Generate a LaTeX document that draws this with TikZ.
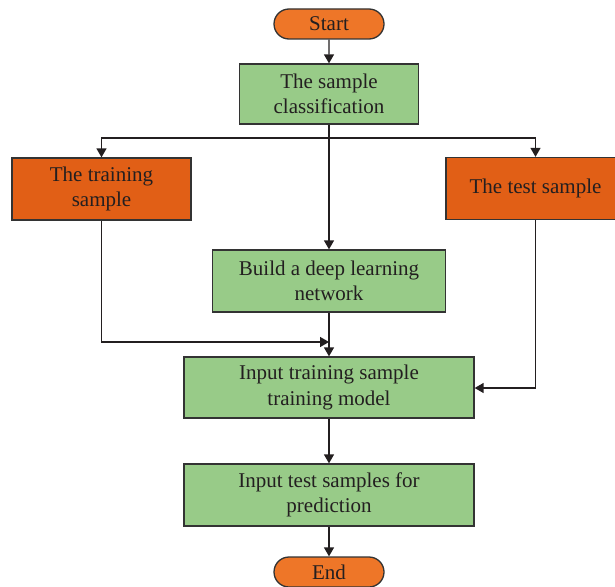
\documentclass[tikz,border=0pt]{standalone}
\usepackage{fontspec}
\setmainfont{Liberation Serif}
\usetikzlibrary{arrows.meta,shapes.misc}
\definecolor{boxgreen}{HTML}{98CB88}
\definecolor{boxorange}{HTML}{E15F16}
\definecolor{termorange}{HTML}{EE7628}
\definecolor{txt}{HTML}{231F20}
\definecolor{edge}{HTML}{333333}
\begin{document}
\begin{tikzpicture}[x=1pt,y=-1pt,
  base/.style={draw=edge,line width=1.3pt,text=txt,align=center,font=\fontsize{21}{25.5}\selectfont,inner sep=0pt},
  greenbox/.style={base,fill=boxgreen,minimum height=61pt},
  orangebox/.style={base,fill=boxorange,minimum height=62pt,minimum width=179pt},
  term/.style={base,fill=termorange,rounded rectangle,minimum width=110pt,minimum height=30pt},
  arr/.style={draw=txt,line width=1.4pt,-{Triangle[width=10pt,length=9pt]}},
  ln/.style={draw=txt,line width=1.4pt}]
\useasboundingbox (0,0) rectangle (615,586);
\node[term] (start) at (329,24) {Start};
\node[greenbox,minimum width=179pt,minimum height=60pt] (class) at (329,94) {The sample\\classification};
\node[orangebox] (train) at (101.5,189) {The training\\sample};
\node[orangebox] (test) at (535.5,188.5) {The test sample};
\node[greenbox,minimum width=233pt,minimum height=62pt] (build) at (329,281) {Build a deep learning\\network};
\node[greenbox,minimum width=290pt] (inptrain) at (329,387.5) {Input training sample\\training model};
\node[greenbox,minimum width=290pt,minimum height=62pt] (inptest) at (329,495) {Input test samples for\\prediction};
\node[term] (end) at (329,572) {End};

\coordinate (split) at (329,138);
\coordinate (join) at (329,342);
\coordinate (tjoin) at (535.5,388);

\draw[arr] (start) -- (class);
\draw[arr] (class.south) -- (build.north);
\draw[arr] (split) -| (train.north);
\draw[arr] (split) -| (test.north);
\draw[arr] (train.south) |- (join);
\draw[arr] (build.south) -- (inptrain.north);
\draw[ln] (test.south) -- (tjoin);
\draw[arr] (tjoin) -- (inptrain.east |- tjoin);
\draw[arr] (inptrain) -- (inptest);
\draw[arr] (inptest) -- (end);
\end{tikzpicture}
\end{document}
